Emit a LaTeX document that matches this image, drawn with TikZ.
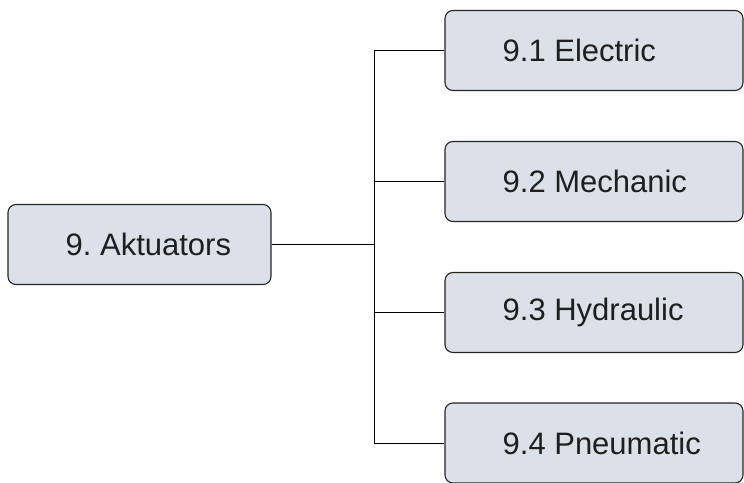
\documentclass[tikz,border=0pt]{standalone}
\usepackage{fontspec}
\setmainfont{Liberation Sans}
\frenchspacing
\begin{document}
\begin{tikzpicture}[x=1pt,y=-1pt,
  box/.style={draw=black!85, line width=1.1pt, fill=boxfill, rounded corners=8pt,
              minimum width=#1, minimum height=80pt, inner sep=0pt},
  lbl/.style={anchor=west, inner sep=0pt, font=\fontsize{31}{36}\selectfont, text=black!88},
  wire/.style={draw=black, line width=1pt}]
\definecolor{boxfill}{RGB}{220,224,232}
\useasboundingbox (0,0) rectangle (744,482);
% root
\node[box=263pt] (root) at (139.5,244.5) {};
\node[lbl] (roottxt) at ([xshift=58pt]root.west) {9. Aktuators};
% children
\node[box=298pt] (c1) at (594,50.5) {};
\node[box=298pt] (c2) at (594,181.5) {};
\node[box=298pt] (c3) at (594,312.5) {};
\node[box=298pt] (c4) at (594,443) {};
\node[lbl] at ([xshift=58pt]c1.west) {9.1 Electric};
\node[lbl] at ([xshift=58pt]c2.west) {9.2 Mechanic};
\node[lbl] at ([xshift=58pt]c3.west) {9.3 Hydraulic};
\node[lbl] at ([xshift=58pt]c4.west) {9.4 Pneumatic};
% connectors: one vertical bus with stubs to each box
\coordinate (bus) at (374.5,244.5);
\draw[wire] (root.east) -- (bus);
\draw[wire] (c1.west) -| (bus) |- (c4.west);
\draw[wire] (c2.west) -- (c2.west -| bus);
\draw[wire] (c3.west) -- (c3.west -| bus);
\end{tikzpicture}
\end{document}
